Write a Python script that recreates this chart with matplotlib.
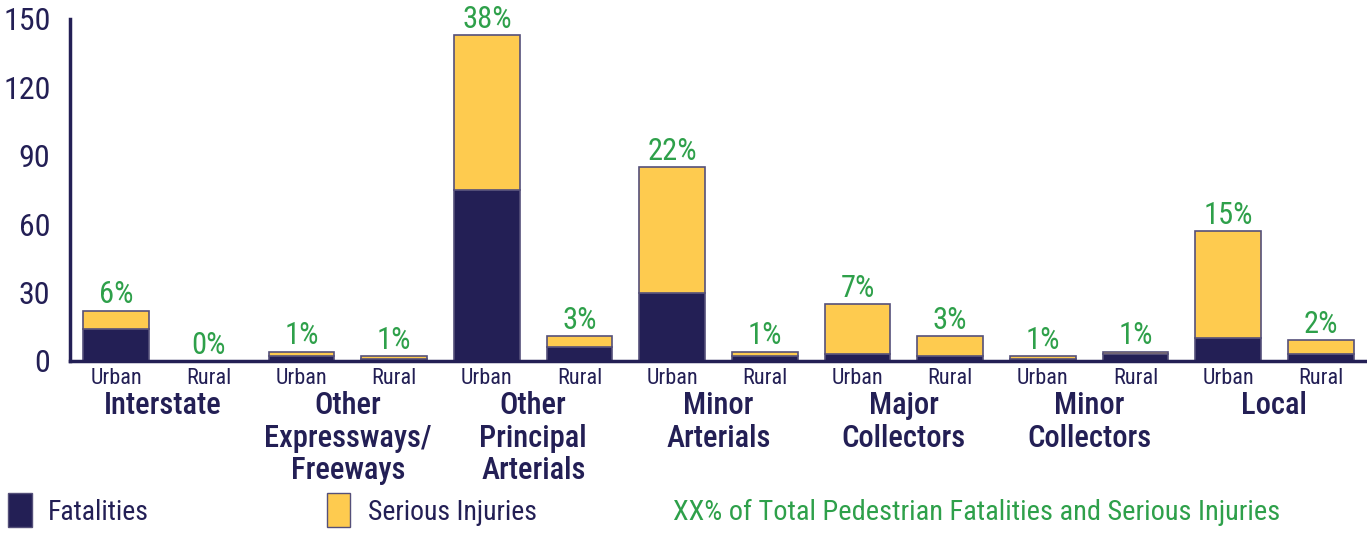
import numpy as np
import matplotlib.pyplot as plt
from matplotlib.patches import Rectangle
from matplotlib import font_manager as fm

# pick a condensed face if one is installed
installed = set(f.name for f in fm.fontManager.ttflist)
prefs = ['Roboto Condensed', 'Barlow Semi Condensed', 'Barlow Condensed', 'Archivo Narrow',
         'IBM Plex Sans Condensed', 'PT Sans Narrow']
face = [p for p in prefs if p in installed][:1]
plt.rcParams['font.family'] = face + ['DejaVu Sans']

#====  data  ====
categories = ["Interstate", "Other\nExpressways/\nFreeways", "Other\nPrincipal\nArterials",
              "Minor\nArterials", "Major\nCollectors", "Minor\nCollectors", "Local"]
areas = ["Urban", "Rural"]
fatalities = [14, 0, 2, 1, 75, 6, 30, 2, 3, 2, 1, 3, 10, 3]
injuries   = [8, 0, 2, 1, 68, 5, 55, 2, 22, 9, 1, 1, 47, 6]
pct_labels = ["6%", "0%", "1%", "1%", "38%", "3%", "22%", "1%", "7%", "3%", "1%", "1%", "15%", "2%"]

navy = "#231f55"
gold = "#fecb4f"
green = "#2ea04a"
edge = "#55507a"

fig = plt.figure(figsize=(13.67, 5.33), dpi=100)
ax = fig.add_axes([70/1367, 1-361/533, 1-70/1367, 342/533])

x = np.arange(len(fatalities))
fat = np.array(fatalities)
inj = np.array(injuries)
ax.bar(x, fat, width=0.71, color=navy, edgecolor=edge, linewidth=1.2, zorder=2)
ax.bar(x, inj, width=0.71, bottom=fat, color=gold, edgecolor=edge, linewidth=1.2, zorder=2)

tot = fat + inj
for i in range(len(x)):
    ax.annotate(pct_labels[i], (x[i], tot[i]), xytext=(0, 1), textcoords="offset points",
                ha="center", va="bottom", color=green, fontsize=22, fontweight="normal")

ax.set_xlim(-0.5, len(x) - 0.5)
ax.set_ylim(0, 150)
ax.set_yticks([0, 30, 60, 90, 120, 150])
ax.tick_params(axis="y", length=0, pad=14, labelsize=23, labelcolor=navy)
ax.set_xticks(x)
ax.set_xticklabels(areas * len(categories))
ax.tick_params(axis="x", length=0, pad=5, labelsize=16, labelcolor=navy)
for s in ["top", "right"]:
    ax.spines[s].set_visible(False)
for s in ["left", "bottom"]:
    ax.spines[s].set_color(navy)
    ax.spines[s].set_linewidth(2.5)

# group labels under each Urban/Rural pair
for j, c in enumerate(categories):
    ax.text(2*j + 0.5, -0.088, c, transform=ax.get_xaxis_transform(), ha="center", va="top",
            fontsize=22, fontweight="medium", color=navy, linespacing=1.15)

# legend row
fig.patches.append(Rectangle((8/1367, 1-527/533), 24/1367, 34/533, transform=fig.transFigure,
                             facecolor=navy, edgecolor=edge, linewidth=1))
fig.text(48/1367, 1-512/533, "Fatalities", ha="left", va="center", fontsize=20, color=navy)
fig.patches.append(Rectangle((327/1367, 1-527/533), 23/1367, 34/533, transform=fig.transFigure,
                             facecolor=gold, edgecolor=edge, linewidth=1))
fig.text(368/1367, 1-512/533, "Serious Injuries", ha="left", va="center", fontsize=20, color=navy)
fig.text(673/1367, 1-512/533, "XX% of Total Pedestrian Fatalities and Serious Injuries",
         ha="left", va="center", fontsize=20.4, color=green)

fig.savefig("out.png", dpi=100)
